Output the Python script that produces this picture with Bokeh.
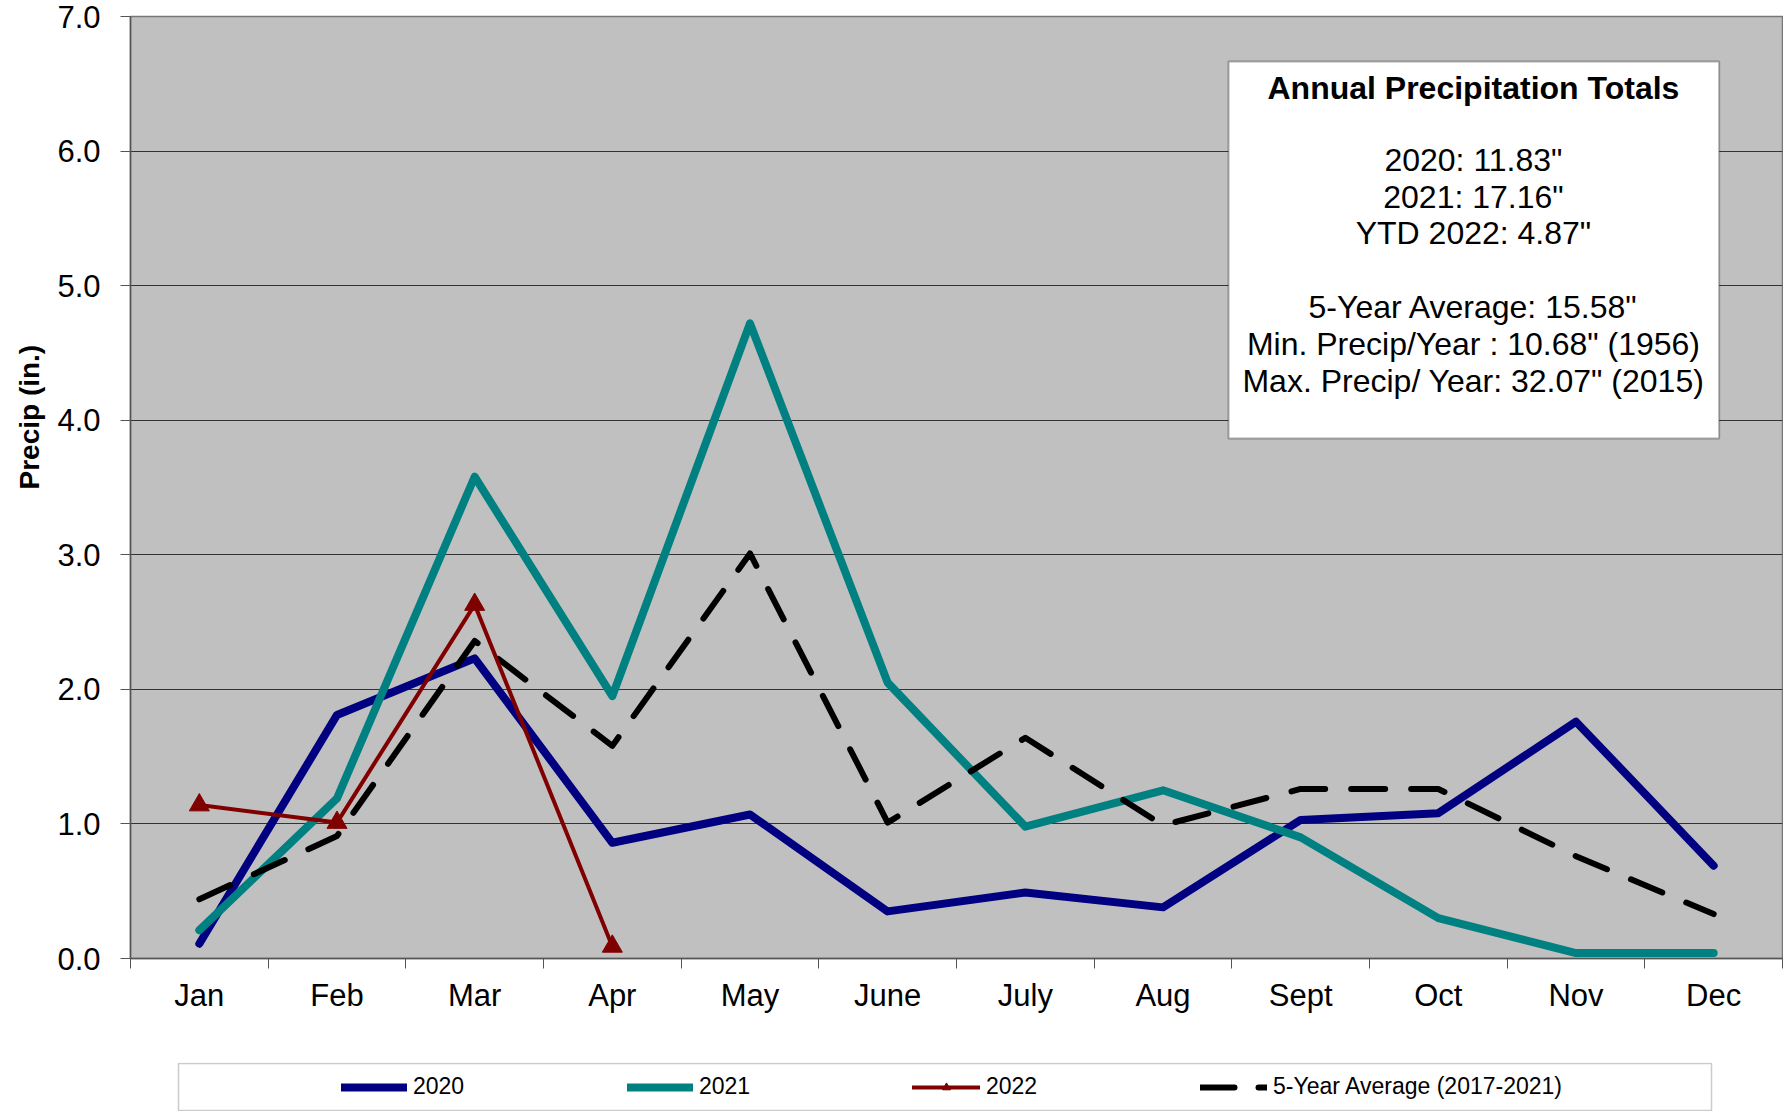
from bokeh.plotting import figure
from bokeh.layouts import column
from bokeh.models import (FixedTicker, NumeralTickFormatter, Legend, LegendItem,
                          Label, BoxAnnotation, Range1d, Title)
from bokeh.embed import file_html
from bokeh.resources import INLINE

# ---------------- data ----------------
months = ["Jan", "Feb", "Mar", "Apr", "May", "June", "July", "Aug", "Sept", "Oct", "Nov", "Dec"]
precip_2020 = [0.11, 1.81, 2.23, 0.86, 1.07, 0.35, 0.49, 0.38, 1.03, 1.08, 1.76, 0.69]
precip_2021 = [0.21, 1.19, 3.58, 1.95, 4.72, 2.05, 0.98, 1.25, 0.90, 0.30, 0.04, 0.04]
precip_2022 = [1.14, 1.01, 2.63, 0.09]
avg_5yr = [0.44, 0.91, 2.36, 1.58, 3.01, 1.01, 1.64, 0.99, 1.26, 1.26, 0.76, 0.33]
y_ticks = [0, 1, 2, 3, 4, 5, 6, 7]
series_labels = ["2020", "2021", "2022", "5-Year Average (2017-2021)"]
box_title = "Annual Precipitation Totals"
box_lines = ['2020: 11.83"', '2021: 17.16"', 'YTD 2022: 4.87"', '',
             '5-Year Average: 15.58"', 'Min. Precip/Year : 10.68" (1956)',
             'Max. Precip/ Year: 32.07" (2015)']

x_all = [i + 0.5 for i in range(len(months))]
x_2022 = x_all[:len(precip_2022)]

FONT = "Liberation Sans"
C20, C21, C22, CAV = "#000080", "#008080", "#800000", "black"

p = figure(width=1783, height=1062, output_backend="svg", toolbar_location=None,
           x_range=Range1d(0, len(months)), y_range=Range1d(0, 7),
           min_border_left=130, min_border_right=1, min_border_top=16, min_border_bottom=104)

p.background_fill_color = "#C0C0C0"
p.border_fill_color = "white"
p.outline_line_color = "#777777"
p.outline_line_width = 1.5

# x axis
p.xaxis.ticker = FixedTicker(ticks=x_all, minor_ticks=list(range(len(months) + 1)))
p.xaxis.major_label_overrides = {x: m for x, m in zip(x_all, months)}
p.xaxis.major_tick_line_color = None
p.xaxis.minor_tick_line_color = "#555555"
p.xaxis.minor_tick_out = 10
p.xaxis.minor_tick_in = 0
p.xaxis.axis_line_color = "#555555"
p.xaxis.axis_line_width = 1.5
p.xaxis.major_label_text_font = FONT
p.xaxis.major_label_text_font_size = "31px"
p.xaxis.major_label_text_color = "black"
p.xaxis.major_label_standoff = 9

# y axis
p.yaxis.ticker = FixedTicker(ticks=y_ticks, minor_ticks=[])
p.yaxis.formatter = NumeralTickFormatter(format="0.0")
p.yaxis.major_tick_line_color = "#555555"
p.yaxis.major_tick_out = 10
p.yaxis.major_tick_in = 0
p.yaxis.axis_line_color = "#555555"
p.yaxis.axis_line_width = 1.5
p.yaxis.major_label_text_font = FONT
p.yaxis.major_label_text_font_size = "31px"
p.yaxis.major_label_text_color = "black"
p.yaxis.major_label_standoff = 20

p.xgrid.grid_line_color = None
p.ygrid.ticker = FixedTicker(ticks=y_ticks)
p.ygrid.grid_line_color = "#333333"
p.ygrid.grid_line_width = 1

# y axis title (vertical, placed above centre as in the reference)
p.add_layout(Title(text="Precip (in.)", align="left", offset=469, standoff=20,
                   text_font=FONT, text_font_style="bold", text_font_size="28px",
                   text_color="black"), "left")

# ---------------- series ----------------
p.line(x_all, precip_2020, line_color=C20, line_width=8, line_cap="round", line_join="round")
p.line(x_all, precip_2021, line_color=C21, line_width=8, line_cap="round", line_join="round")
p.line(x_all, avg_5yr, line_color=CAV, line_width=6, line_dash="34 26",
       line_cap="round", line_join="round")
p.line(x_2022, precip_2022, line_color=C22, line_width=4, line_cap="round", line_join="round")
p.scatter(x_2022, precip_2022, marker="triangle", size=20, fill_color=C22, line_color=C22)

# ---------------- annotation box ----------------
p.add_layout(BoxAnnotation(left=7.976, right=11.54, top=6.666, bottom=3.864,
                           fill_color="white", fill_alpha=1.0,
                           line_color="black", line_width=2, level="annotation"))
cx = 9.755
p.add_layout(Label(x=cx, y=6.472, text=box_title, text_align="center",
                   text_baseline="middle", text_font=FONT, text_color="black",
                   text_font_style="bold", text_font_size="32px", level="overlay"))
line_y = [5.930, 5.655, 5.388, 5.113, 4.838, 4.570, 4.295]
for t, yy in zip(box_lines, line_y):
    if t:
        p.add_layout(Label(x=cx, y=yy, text=t, text_align="center",
                           text_baseline="middle", text_font=FONT, text_color="black",
                           text_font_size="32px", level="overlay"))

# ---------------- legend (strip below the chart, same borders as the chart) ----------------
# this strip's ranges are page pixels, so the decorative box can be placed directly
pl = figure(width=1783, height=49, output_backend="svg", toolbar_location=None,
            x_range=Range1d(130, 1782), y_range=Range1d(1111, 1062),
            x_axis_type=None, y_axis_type=None,
            min_border_left=130, min_border_right=1, min_border_top=0, min_border_bottom=0)
pl.xgrid.grid_line_color = None
pl.ygrid.grid_line_color = None
pl.background_fill_color = "white"
pl.border_fill_color = "white"
pl.outline_line_color = None

pl.add_layout(BoxAnnotation(left=178, right=1711, top=1063, bottom=1110,
                            fill_alpha=0, line_color="#555555", line_width=1.5))

# series drawn again (they fall outside this strip's range) so that legend glyphs are styled
e20 = pl.line(x_all, precip_2020, line_color=C20, line_width=8, line_cap="round")
e21 = pl.line(x_all, precip_2021, line_color=C21, line_width=8, line_cap="round")
e22 = pl.line(x_2022, precip_2022, line_color=C22, line_width=4, line_cap="round")
e22m = pl.scatter(x_2022, precip_2022, marker="triangle", size=13, fill_color=C22, line_color=C22)
eav = pl.line(x_all, avg_5yr, line_color=CAV, line_width=6, line_dash="34 24", line_cap="round")

leg_renderers = [[e20], [e21], [e22, e22m], [eav]]
leg_x = [211, 497, 782, 1070]
leg_gw = [66, 66, 68, 67]
for lab, rs, lx, gw in zip(series_labels, leg_renderers, leg_x, leg_gw):
    lg = Legend(items=[LegendItem(label=lab, renderers=rs)],
                location=(lx, 11), orientation="horizontal",
                border_line_color=None, background_fill_alpha=0,
                padding=0, margin=0, spacing=0,
                glyph_width=gw, glyph_height=20, label_standoff=6,
                label_text_font=FONT, label_text_font_size="23px",
                label_text_color="black", label_height=20)
    pl.add_layout(lg, "center")

layout = column(p, pl, spacing=0)
open("out.html", "w").write(file_html(layout, INLINE))
